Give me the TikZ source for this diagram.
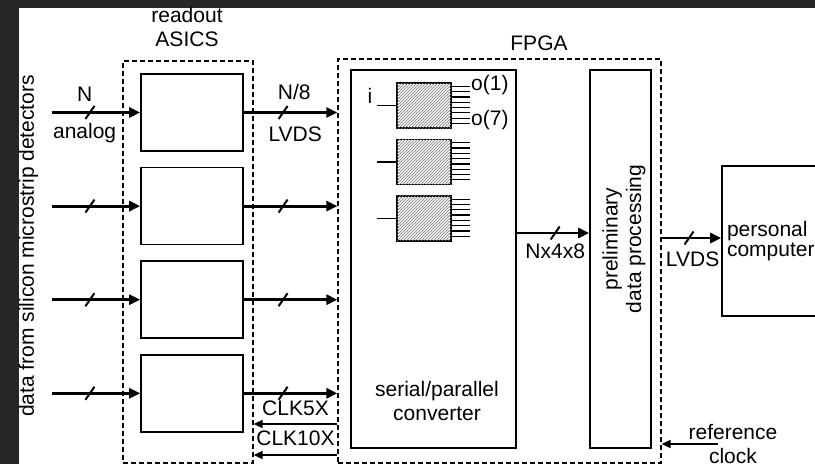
\documentclass[tikz,border=0pt]{standalone}
\usepackage{fontspec}
\setmainfont{Liberation Sans}
\usetikzlibrary{arrows.meta, positioning, calc, patterns, decorations.markings}
\definecolor{FrameGray}{RGB}{38,38,38}
\definecolor{HatchGray}{RGB}{125,125,125}

\begin{document}
\begin{tikzpicture}[x=1pt, y=-1pt,
  font=\fontsize{21}{23.5}\selectfont,
  txt/.style={inner sep=0pt},
  asic/.style={draw, line width=1.6pt, minimum width=102pt, minimum height=77pt},
  group/.style={draw, dash pattern=on 5pt off 3pt, line width=1.3pt, inner sep=0pt},
  block/.style={draw, line width=1.6pt, inner sep=0pt},
  conv/.style={draw, line width=1.4pt, fill=gray!8, minimum width=54pt,
               minimum height=45pt, inner sep=0pt,
               postaction={pattern=north east lines, pattern color=HatchGray}},
  arr/.style={-{Triangle[length=11pt,width=10pt]}, line width=2.8pt},
  clk/.style={-{Triangle[length=9pt,width=8pt]}, line width=1.8pt},
  bus/.style={arr, postaction={decorate, decoration={markings,
      mark=at position #1 with {\draw[-, line width=2pt] (-4.5pt,-6.5pt) -- (4.5pt,6.5pt);}}}},
]
\useasboundingbox (0,0) rectangle (815,464);
\fill[FrameGray] (0,0) rectangle (815,464);
\fill[white] (19,8) rectangle (815,464);

\node[txt, rotate=90, anchor=base] (detlbl) at (34,246) {data from silicon microstrip detectors};
\coordinate (src) at (52,0);

% readout ASICs
\node[group, minimum width=130pt, minimum height=402pt] (asics) at (188,262) {};
\node[txt, align=center] (asicslbl) at (187,27) {readout\\ASICS};
\node[asic] (asic1) at (192,112.5) {};
\node[asic, below=15pt of asic1] (asic2) {};
\node[asic, below=15pt of asic2] (asic3) {};
\node[asic, below=15pt of asic3] (asic4) {};

% FPGA
\node[group, minimum width=323pt, minimum height=404pt] (fpga) at (499.5,261) {};
\node[txt] (fpgalbl) at (539,43) {FPGA};
\node[block, minimum width=165pt, minimum height=378pt] (sp) at (433.5,259) {};
\node[txt, align=center, above=28pt of sp.south, xshift=3.5pt] (splbl) {serial/parallel\\converter};
\node[conv] (sp1) at (424,105.5) {};
\node[conv, below=10pt of sp1] (sp2) {};
\node[conv, below=10pt of sp2] (sp3) {};
\node[txt] (ilbl) at (370,96) {i};
\node[txt, anchor=west] (o1) at (471,85) {o(1)};
\node[txt, anchor=west] (o7) at (471,120) {o(7)};
\foreach \n in {sp1,sp2,sp3} {
  \draw[line width=1.4pt] (\n.west) -- ++(-19,0);
  \foreach \k in {0,...,7}
    \draw[line width=1.2pt] ([yshift={-4pt-\k*5.3pt}]\n.north east) -- ++(18,0);
}
\node[block, minimum width=61pt, minimum height=378pt] (prelim) at (620.5,259) {};
\node[txt, rotate=90, align=center] (prelimlbl) at (624,239) {preliminary\\data processing};

% PC
\node[block, minimum width=120pt, minimum height=150pt, text width=110pt,
      inner xsep=5pt, align=left, font=\fontsize{21}{20}\selectfont] (pc) at (782,241)
  {personal\\computer};
\node[txt, align=center] (refclk) at (733,444) {reference\\clock};
\coordinate (refin) at (718,444);

\draw[bus=.43] (asic1.west -| src) -- node[txt, above=10pt, pos=.37] {N}
  node[txt, below=9pt, pos=.37] {analog} (asic1.west);
\draw[bus=.43] (asic2.west -| src) -- (asic2.west);
\draw[bus=.43] (asic3.west -| src) -- (asic3.west);
\draw[bus=.43] (asic4.west -| src) -- (asic4.west);

\draw[bus=.42] (asic1.east) -- node[txt, above=11pt, pos=.54] {N/8}
  node[txt, below=13pt, pos=.55] {LVDS} (asic1.east -| fpga.west);
\draw[bus=.42] (asic2.east) -- (asic2.east -| fpga.west);
\draw[bus=.42] (asic3.east) -- (asic3.east -| fpga.west);
\draw[bus=.42] (asic4.east) -- (asic4.east -| fpga.west);

\draw[clk] ([yshift=-163pt]fpga.west) -- node[txt, above=7pt] {CLK5X}
  ([yshift=-163pt]fpga.west -| asics.east);
\draw[clk] ([yshift=-194pt]fpga.west) -- node[txt, above=8pt] {CLK10X}
  ([yshift=-194pt]fpga.west -| asics.east);

\draw[bus=.53] ([yshift=26pt]sp.east) -- node[txt, below=9pt, pos=.53] {Nx4x8}
  ([yshift=26pt]sp.east -| prelim.west);
\draw[bus=.46] ([yshift=3pt]pc.west -| fpga.east) -- node[txt, below=12pt, pos=.52] {LVDS}
  ([yshift=3pt]pc.west);
\draw[clk] (refin) -- (refin -| fpga.east);
\end{tikzpicture}
\end{document}
